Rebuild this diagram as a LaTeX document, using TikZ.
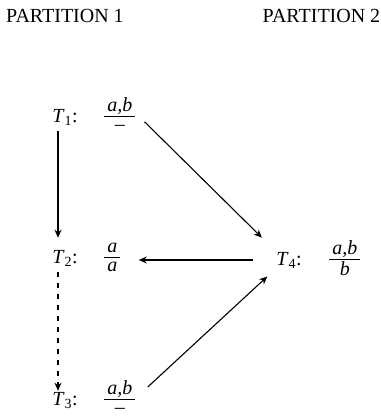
\documentclass[tikz,border=0pt]{standalone}
\usepackage{amsmath}
\usepackage{fontspec}
\setmainfont{Liberation Serif}
\usepackage{tikz}
\usetikzlibrary{arrows.meta}
\newcommand{\fr}[2]{$\genfrac{}{}{0.9pt}{1}%
  {\textstyle\kern3pt\rule[-3.5pt]{0pt}{0pt}\textit{#1}\kern3pt}%
  {\textstyle\kern3pt\rule{0pt}{12pt}#2\kern3pt}$}

\begin{document}
\begin{tikzpicture}[x=1pt,y=-1pt,
      hdr/.style={font=\fontsize{20}{24}\selectfont,anchor=base,inner sep=0pt},
      tlbl/.style={font=\fontsize{20}{24}\selectfont,anchor=base,inner sep=0pt},
      frc/.style={font=\fontsize{20}{24}\selectfont,anchor=base west,inner sep=0pt},
      lnk/.style={line width=1.1pt,-{Stealth[length=8pt,width=7pt,inset=2.5pt]}}]
    \useasboundingbox (0,0) rectangle (381,416);
    \node[hdr] (hdr1) at (65,22) {PARTITION 1};
    \node[hdr] (hdr2) at (321.5,22) {PARTITION 2};
    \foreach \i/\y/\n/\d in {1/122/{a,b}/\textendash, 2/263/a/\textit{a}, 3/405/{a,b}/\textendash} {
      \node[tlbl] (t\i) at (65,\y) {\textit{T}\textsubscript{\i}:};
      \node[frc] (f\i) at (103,\y) {\fr{\n}{\d}};
    }
    \node[tlbl] (t4) at (289,265) {\textit{T}\textsubscript{4}:};
    \node[frc] (f4) at (328,265) {\fr{a,b}{\textit{b}}};
    \draw[lnk,shorten <=6pt,shorten >=12pt] ([xshift=-7pt]t1.south) -- ([xshift=-7pt]t2.north);
    \draw[lnk,dash pattern=on 5pt off 6pt,shorten <=6pt,shorten >=1pt] ([xshift=-7pt]t2.south) -- ([xshift=-7pt]t3.north);
    \draw[lnk,shorten <=11pt,shorten >=20pt] (f1.east) -- (t4.north west);
    \draw[lnk,shorten <=23pt,shorten >=17pt] (t4.west) -- (t4.west -| f2.east);
    \draw[lnk,shorten <=15pt,shorten >=12pt] (f3.east) -- (t4.south west);
  \end{tikzpicture}
\end{document}
